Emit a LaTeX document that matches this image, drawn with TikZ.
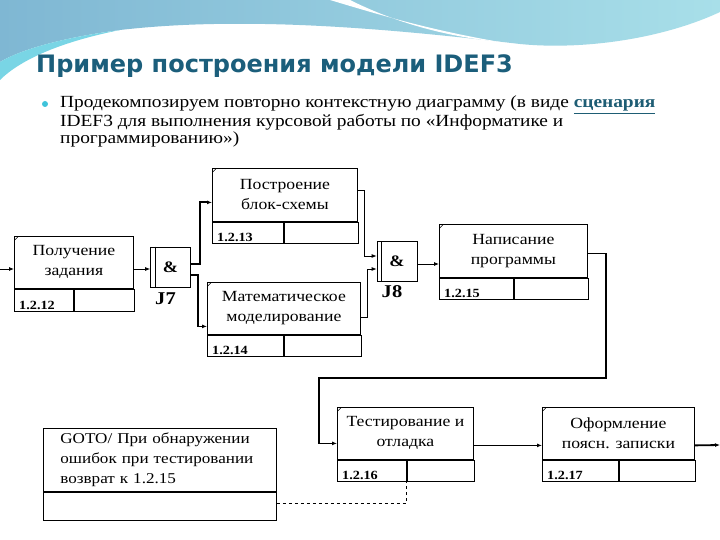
\documentclass[tikz,border=0pt]{standalone}
\usepackage{fontspec}
\setmainfont[FakeStretch=1.14]{Liberation Serif}
\newfontfamily\headfont{DejaVu Sans}
\usetikzlibrary{arrows.meta,positioning,calc}
\definecolor{slideBlue}{HTML}{7FB7D3}
\definecolor{slideCyan}{HTML}{A8DFE9}
\definecolor{slideTitle}{HTML}{1B5E7B}
\definecolor{slideBullet}{HTML}{3FC3DA}
\definecolor{slideLink}{HTML}{1E5D74}

\begin{document}
\begin{tikzpicture}[
  x=1pt, y=-1pt,
  >=Latex,
  font=\fontsize{15.5}{20}\selectfont,
  uow/.style={draw, line width=0.8pt, align=center, anchor=north west,
              inner sep=2pt,
              path picture={\draw[line width=0.5pt]
                ([yshift=-4pt]path picture bounding box.north west)
                -- ++(4pt,4pt);}},
  idcell/.style={draw, line width=0.8pt, anchor=north west, inner sep=0pt,
                 minimum height=21pt},
  idtext/.style={anchor=south west, inner sep=2pt, xshift=3pt,
                 font=\bfseries\fontsize{12.5}{13}\selectfont},
  junc/.style={draw, line width=0.8pt, minimum width=40pt, minimum height=40pt,
               font=\bfseries\fontsize{16}{17}\selectfont},
  jlabel/.style={font=\bfseries\fontsize{18}{19}\selectfont},
  arr/.style={-{Latex[length=5pt,width=4pt]}, line width=0.8pt},
  thickarr/.style={-{Latex[length=5pt,width=4pt]}, line width=1.8pt},
  note/.style={draw, dashed, line width=0.8pt}
]
\useasboundingbox (0,0) rectangle (720,540);
% slide background
\fill[white] (0,0) rectangle (720,540);
\shade[left color=slideBlue, right color=slideCyan]
  (0,0) -- (720,0) -- (720,12) .. controls (660,40) and (580,50) .. (520,44)
  .. controls (400,30) and (250,15) .. (120,30)
  .. controls (60,38) and (20,50) .. (0,62) -- cycle;
\fill[white] (330,0) .. controls (380,15) and (430,30) .. (500,42)
  .. controls (440,36) and (390,20) .. (350,0) -- cycle;
\fill[slideBullet!70] (0,62) .. controls (20,50) and (60,38) .. (120,30)
  .. controls (60,42) and (20,60) .. (0,80) -- cycle;

\node[anchor=base west, text=slideTitle, inner sep=0pt,
      font=\headfont\bfseries\fontsize{24}{26}\selectfont]
  (title) at (36,73) {Пример построения модели IDEF3};
\fill[slideBullet] (45,104) circle (3pt);
\node[anchor=north west, inner sep=0pt, align=left,
      font=\fontsize{17}{14}\selectfont] (intro) at (60,96)
  {Продекомпозируем повторно контекстную диаграмму (в виде
   {\color{slideLink}\bfseries\underline{сценария}}\\
   IDEF3 для выполнения курсовой работы по «Информатике и\\
   программированию»)};

% units of work
\node[uow, minimum width=119pt, minimum height=52pt] (get) at (14,236) {Получение\\задания};
\node[idcell, minimum width=59pt, minimum height=22pt] (getid) at (get.south west) {};
\node[idcell, minimum width=60pt, minimum height=22pt] (getr) at (getid.north east) {};
\node[idtext] at (getid.south west) {1.2.12};

\node[uow, minimum width=145pt, minimum height=53pt] (flow) at (212,168) {Построение\\блок-схемы};
\node[idcell, minimum width=71pt] (flowid) at (flow.south west) {};
\node[idcell, minimum width=74pt] (flowr) at (flowid.north east) {};
\node[idtext] at (flowid.south west) {1.2.13};

\node[uow, minimum width=153pt, minimum height=52pt] (math) at (207,282) {Математическое\\моделирование};
\node[idcell, minimum width=76pt] (mathid) at (math.south west) {};
\node[idcell, minimum width=77pt] (mathr) at (mathid.north east) {};
\node[idtext] at (mathid.south west) {1.2.14};

\node[uow, minimum width=148pt, minimum height=53pt] (code) at (439,224) {Написание\\программы};
\node[idcell, minimum width=74pt] (codeid) at (code.south west) {};
\node[idcell, minimum width=74pt] (coder) at (codeid.north east) {};
\node[idtext] at (codeid.south west) {1.2.15};

\node[uow, minimum width=136pt, minimum height=52pt] (test) at (337,407) {Тестирование и\\отладка};
\node[idcell, minimum width=69pt] (testid) at (test.south west) {};
\node[idcell, minimum width=67pt] (testr) at (testid.north east) {};
\node[idtext] at (testid.south west) {1.2.16};

\node[uow, minimum width=152pt, minimum height=52pt] (doc) at (542,407) {Оформление\\поясн. записки};
\node[idcell, minimum width=76pt] (docid) at (doc.south west) {};
\node[idcell, minimum width=76pt] (docr) at (docid.north east) {};
\node[idtext] at (docid.south west) {1.2.17};

% referent (GOTO)
\node[draw, line width=0.8pt, anchor=north west, minimum width=233pt, minimum height=63pt,
      align=left, text width=199pt, inner xsep=17pt, inner ysep=3pt,
      font=\fontsize{15}{20}\selectfont] (goto) at (43,428)
  {GOTO/ При обнаружении\\ошибок при тестировании\\возврат к 1.2.15};
\node[idcell, minimum width=233pt, minimum height=28pt] (gotoid) at (goto.south west) {};

% junctions
\node[junc] (j7) at (170.5,267) {\&};
\draw[line width=0.8pt] ([xshift=5pt]j7.north west) -- ([xshift=5pt]j7.south west);
\node[jlabel, below=2pt of j7, xshift=-5pt] (j7lab) {J7};
\node[junc] (j8) at (397,261.5) {\&};
\draw[line width=0.8pt] ([xshift=5pt]j8.north west) -- ([xshift=5pt]j8.south west);
\node[jlabel, below=0pt of j8, xshift=-5pt] (j8lab) {J8};

% links
\coordinate (start) at (0,269);
\coordinate (finish) at (720,445);
\coordinate (j7in) at ([yshift=-2pt]j7.west);
\coordinate (flowin) at ([yshift=-7.5pt]flow.west);
\coordinate (mathin) at ([yshift=-18pt]math.west);
\coordinate (j8a) at ([yshift=5.5pt]j8.west);
\coordinate (j8b) at ([yshift=-7.5pt]j8.west);
\coordinate (j8out) at ([yshift=-2.5pt]j8.east);
\coordinate (testin) at ([yshift=-10pt]test.west);
\coordinate (testout) at ([yshift=-12pt]test.east);

\draw[arr] (start) -- (start -| get.west);
\draw[arr] (get.east |- j7in) -- (j7in);
\draw[thickarr] ([yshift=3pt]j7.east) -| ([xshift=-12pt]flowin) -- (flowin);
\draw[thickarr] ([yshift=-8pt]j7.east) -| ([xshift=-9pt]mathin) -- (mathin);
\draw[arr] ([yshift=4.5pt]flow.east) -| ([xshift=-12pt]j8a) -- (j8a);
\draw[arr] ([yshift=-9pt]math.east) -| ([xshift=-9pt]j8b) -- (j8b);
\draw[arr] (j8out) -- (code.west |- j8out);
\draw[thickarr] ([yshift=-2.5pt]code.east) -| (606,378) -| ([xshift=-18pt]testin) -- (testin);
\draw[thickarr] (testout) -- (doc.west |- testout);
\draw[thickarr] (doc.east |- testout) -- (finish);
\draw[note] ([yshift=3pt]gotoid.east) -| (testid.south east);
\end{tikzpicture}
\end{document}
